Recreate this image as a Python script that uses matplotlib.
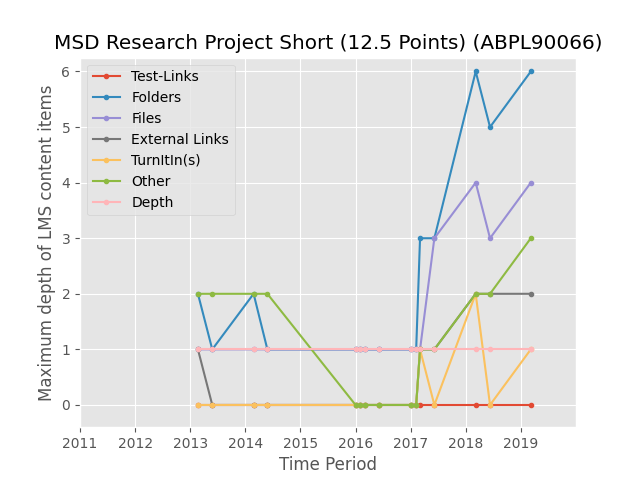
import matplotlib
matplotlib.use("Agg")
from matplotlib import pyplot as plt

periods = [2013.14, 2013.40, 2014.15, 2014.40, 2016.00, 2016.08, 2016.17, 2016.43,
	2017.01, 2017.10, 2017.17, 2017.43, 2018.18, 2018.44, 2019.18]

test_links = [0, 0, 0, 0, 0, 0, 0, 0, 0, 0, 0, 0, 0, 0, 0]
folders = [2, 1, 2, 1, 1, 1, 1, 1, 1, 1, 3, 3, 6, 5, 6]
files = [1, 1, 1, 1, 1, 1, 1, 1, 1, 1, 1, 3, 4, 3, 4]
external_links = [1, 0, 0, 0, 0, 0, 0, 0, 0, 0, 1, 1, 2, 2, 2]
turnitin = [0, 0, 0, 0, 0, 0, 0, 0, 0, 0, 1, 0, 2, 0, 1]
other = [2, 2, 2, 2, 0, 0, 0, 0, 0, 0, 1, 1, 2, 2, 3]
depth = [1, 1, 1, 1, 1, 1, 1, 1, 1, 1, 1, 1, 1, 1, 1]

series = [
	("Test-Links", test_links),
	("Folders", folders),
	("Files", files),
	("External Links", external_links),
	("TurnItIn(s)", turnitin),
	("Other", other),
	("Depth", depth),
]

plt.style.use("ggplot")
fig, ax = plt.subplots(figsize=(6.4, 4.8), dpi=100)

for name, values in series:
	ax.plot(periods, values, marker=".", label=name)

ax.set_xlim(2011, 2020)
ax.set_xticks(range(2011, 2020))
ax.set_ylim(-0.4, 6.25)
ax.set_title("MSD Research Project Short (12.5 Points) (ABPL90066)")
ax.set_xlabel("Time Period")
ax.set_ylabel("Maximum depth of LMS content items")
ax.legend(loc="upper left")

fig.savefig("out.png")
